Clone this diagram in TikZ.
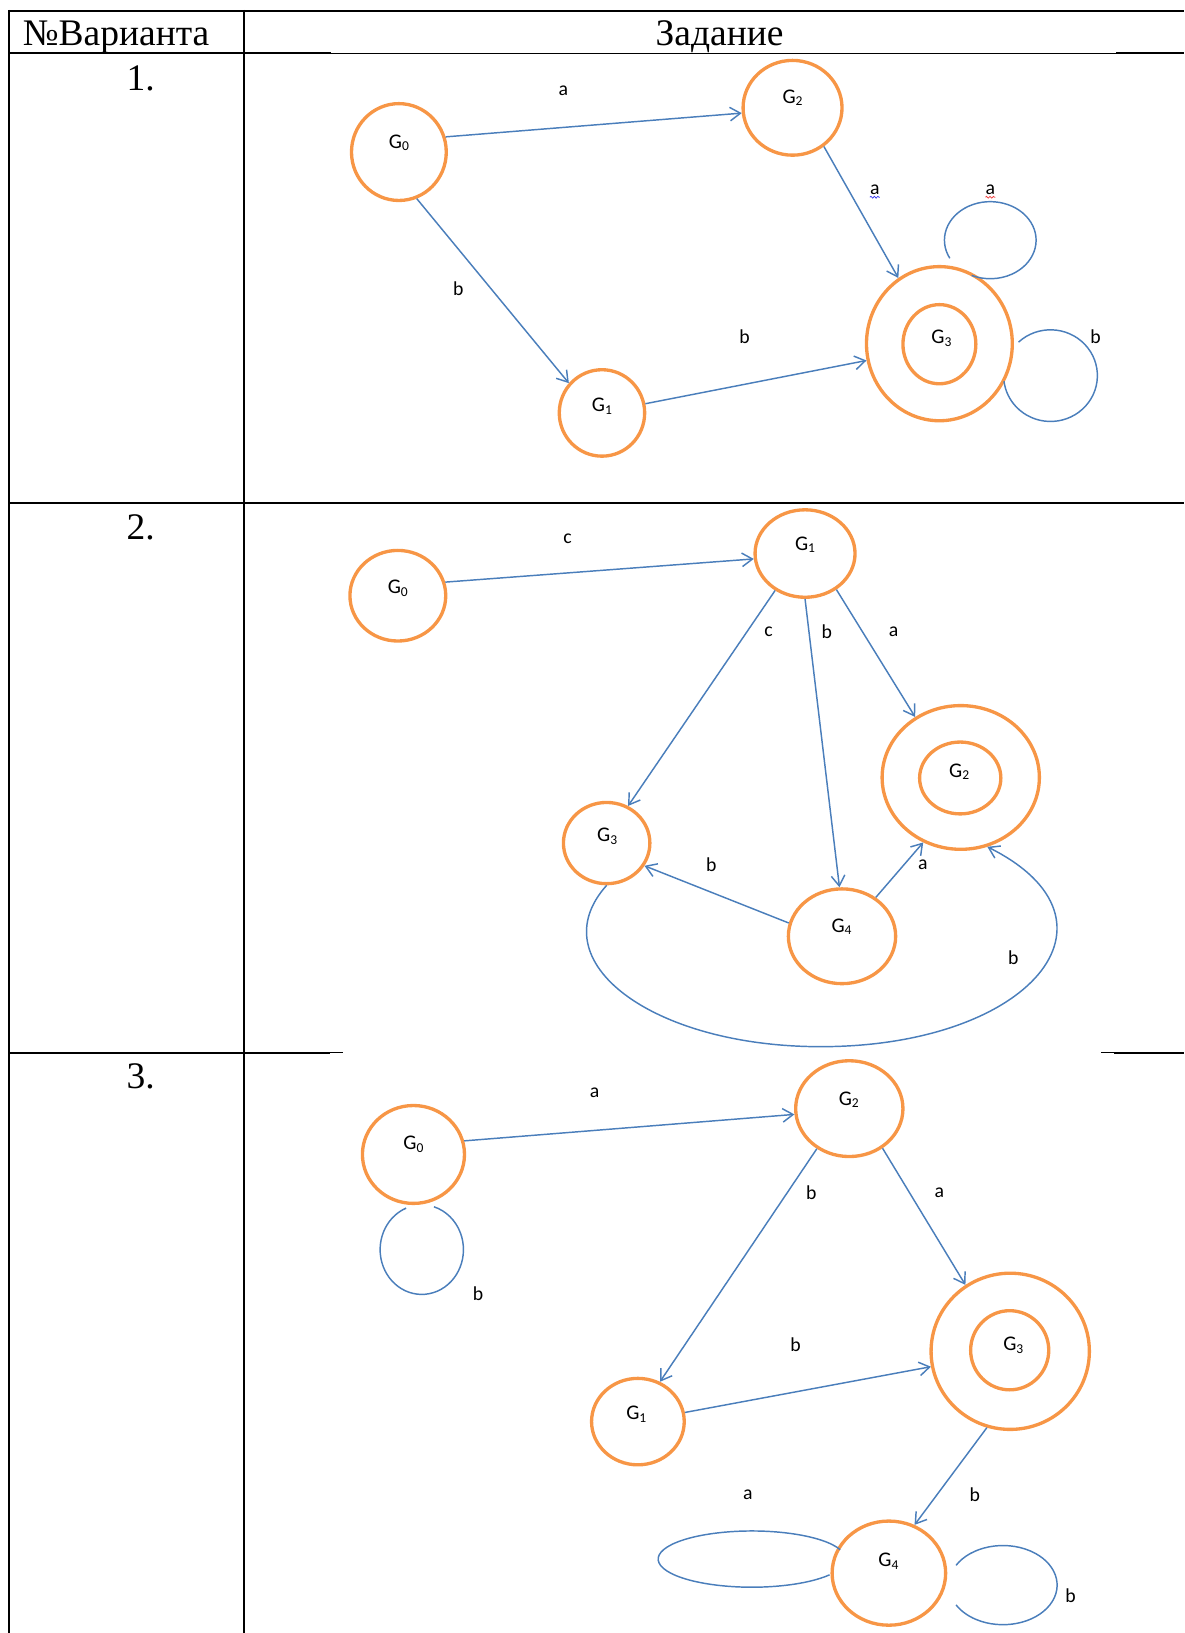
\documentclass[tikz,border=0pt]{standalone}
\usepackage{fontspec}
\setmainfont{Liberation Serif}
\newfontfamily\lblfont{Carlito}
\usetikzlibrary{arrows.meta,shapes.geometric,decorations.pathmorphing}
\definecolor{stateorange}{HTML}{F79646}
\definecolor{edgeblue}{HTML}{4A7EBB}
\definecolor{spellblue}{HTML}{3C3CF0}
\definecolor{spellred}{HTML}{F03C3C}
\newcommand{\gsub}[1]{G\raisebox{-2.5pt}{\fontsize{13}{13}\selectfont#1}}

\begin{document}
\begin{tikzpicture}[x=1pt,y=-1pt,
  state/.style={ellipse,draw=stateorange,line width=3.2pt,inner sep=0pt},
  lbl/.style={font=\lblfont\fontsize{19}{19}\selectfont,inner sep=0pt},
  slbl/.style={font=\lblfont\fontsize{20}{20}\selectfont,inner sep=0pt},
  arr/.style={-{Straight Barb[length=10pt,width=13pt]},line width=1.4pt,edgeblue},
  loopl/.style={line width=1.4pt,edgeblue},
  hdr/.style={font=\fontsize{36}{40}\selectfont,inner sep=0pt,anchor=base},
  tline/.style={line width=1.9pt},
  hair/.style={line width=1.1pt},
  squig/.style={decorate,decoration={snake,amplitude=0.9pt,segment length=3.3pt},line width=0.7pt}]

  \useasboundingbox (0,0) rectangle (1137,1568);

  % table
  \draw[tline] (8.6,10.5) -- (1137,10.5);
  \draw[tline] (8.6,51) -- (318,51);
  \draw[hair] (318,51) -- (1072,51);
  \draw[tline] (1072,51) -- (1137,51);
  \draw[tline] (8.6,483) -- (1137,483);
  \draw[tline] (8.6,1011) -- (317,1011);
  \draw[hair] (317,1011) -- (329,1011);
  \draw[hair] (1057,1011) -- (1070,1011);
  \draw[tline] (1070,1011) -- (1137,1011);
  \draw[tline] (8.6,9.6) -- (8.6,1568);
  \draw[tline] (234,9.6) -- (234,1568);

  \node[hdr] (hnum) at (111.5,44) {№Варианта};
  \node[hdr] (htask) at (691,44) {Задание};
  \node[hdr] (n1) at (135,87) {1.};
  \node[hdr] (n2) at (135,518) {2.};
  \node[hdr] (n3) at (135,1045) {3.};

  % variant 1
  \node[state,minimum width=91pt,minimum height=93pt] (r1g0) at (383,146) {};
  \node[state,minimum width=95pt,minimum height=91pt] (r1g2) at (761,103.5) {};
  \node[state,minimum width=82pt,minimum height=83pt] (r1g1) at (578,396.5) {};
  \node[state,minimum width=140pt,minimum height=148pt] (r1g3) at (902,330) {};
  \node[state,minimum width=70pt,minimum height=76pt] (r1g3i) at (902,330.5) {};
  \node[slbl] (r1t0) at (383,137) {\gsub{0}};
  \node[slbl] (r1t2) at (761,94) {\gsub{2}};
  \node[slbl] (r1t1) at (578,390) {\gsub{1}};
  \node[slbl] (r1t3) at (904,325) {\gsub{3}};

  \draw[arr] (r1g0.18) -- (r1g2.186);
  \draw[arr] (r1g0.-69) -- (r1g1.138);
  \draw[arr] (r1g2.-51) -- (r1g3.122);
  \draw[arr] (r1g1.12) -- (r1g3.193);
  \draw[loopl] ([shift={(10,-82)}]r1g3.center)
    arc[start angle=152,end angle=474,x radius=44,y radius=37];
  \draw[loopl] ([shift={(76,-1.5)}]r1g3.center)
    arc[start angle=227,end angle=533,x radius=45,y radius=44];

  \node[lbl] (r1la) at (541,87) {a};
  \node[lbl] (r1lb) at (440,277) {b};
  \node[lbl] (r1la2) at (840,182) {a};
  \node[lbl] (r1lb2) at (715,323) {b};
  \node[lbl] (r1la3) at (951,182) {a};
  \node[lbl] (r1lb3) at (1052,323) {b};
  \draw[squig,spellblue] ([yshift=-2.5pt]r1la2.south west) -- ([yshift=-2.5pt]r1la2.south east);
  \draw[squig,spellred] ([yshift=-2.5pt]r1la3.south west) -- ([yshift=-2.5pt]r1la3.south east);

  % variant 2
  \node[state,minimum width=92pt,minimum height=87pt] (r2g0) at (382,572) {};
  \node[state,minimum width=96pt,minimum height=84pt] (r2g1) at (773,531.5) {};
  \node[state,minimum width=151pt,minimum height=138pt] (r2g2) at (922.5,746.5) {};
  \node[state,minimum width=78pt,minimum height=69pt] (r2g2i) at (922,747) {};
  \node[state,minimum width=83pt,minimum height=78pt] (r2g3) at (582.5,809.5) {};
  \node[state,minimum width=103pt,minimum height=91pt] (r2g4) at (808.5,899) {};
  \node[slbl] (r2t0) at (382,565) {\gsub{0}};
  \node[slbl] (r2t1) at (773,523) {\gsub{1}};
  \node[slbl] (r2t2) at (921,741) {\gsub{2}};
  \node[slbl] (r2t3) at (583,803) {\gsub{3}};
  \node[slbl] (r2t4) at (808,890) {\gsub{4}};

  \draw[arr] (r2g0.16) -- (r2g1.186);
  \draw[arr] (r2g1.-129) -- (r2g3.60);
  \draw[arr] (r2g1.-90) -- (r2g4.93);
  \draw[arr] (r2g1.-49) -- (r2g2.127);
  \draw[arr] (r2g4.166) -- (r2g3.-31);
  \draw[arr] (r2g4.49) -- (r2g2.-120);
  \draw[arr] (r2g3.south) .. controls (517,923) and (626,1005) .. (788,1005)
    .. controls (989,1005) and (1090,884) .. (r2g2.-69);

  \node[lbl] (r2lc) at (545,517) {c};
  \node[lbl] (r2lc2) at (738,607) {c};
  \node[lbl] (r2lb) at (794,607) {b};
  \node[lbl] (r2la) at (858,607) {a};
  \node[lbl] (r2lb2) at (683,830) {b};
  \node[lbl] (r2la2) at (886,830) {a};
  \node[lbl] (r2lb3) at (973,920) {b};

  % variant 3
  \node[state,minimum width=98pt,minimum height=94pt] (r3g0) at (397,1108.5) {};
  \node[state,minimum width=103pt,minimum height=92pt] (r3g2) at (815.5,1064.5) {};
  \node[state,minimum width=89pt,minimum height=83pt] (r3g1) at (612.5,1365) {};
  \node[state,minimum width=152pt,minimum height=150pt] (r3g3) at (970,1297.5) {};
  \node[state,minimum width=75pt,minimum height=76pt] (r3g3i) at (969.5,1296.5) {};
  \node[state,minimum width=109pt,minimum height=100pt] (r3g4) at (853.5,1510.5) {};
  \node[slbl] (r3t0) at (397,1099) {\gsub{0}};
  \node[slbl] (r3t2) at (815,1056) {\gsub{2}};
  \node[slbl] (r3t1) at (611,1358) {\gsub{1}};
  \node[slbl] (r3t3) at (973,1292) {\gsub{3}};
  \node[slbl] (r3t4) at (853,1499) {\gsub{4}};

  \draw[arr] (r3g0.15) -- (r3g2.186);
  \draw[arr] (r3g2.-129) -- (r3g1.61);
  \draw[arr] (r3g2.-50) -- (r3g3.124);
  \draw[arr] (r3g1.11) -- (r3g3.191);
  \draw[arr] (r3g3.-107) -- (r3g4.62);
  \draw[loopl] ([shift={(-7,51.5)}]r3g0.center)
    arc[start angle=248,end angle=-73,x radius=40,y radius=43];
  \draw[loopl] ([shift={(-46.7,-22.5)}]r3g4.center)
    arc[start angle=-19.5,end angle=-326,x radius=90,y radius=27];
  \draw[loopl] ([shift={(64.5,-7.5)}]r3g4.center)
    arc[start angle=210,end angle=510,x radius=52,y radius=38];

  \node[lbl] (r3la) at (571,1049) {a};
  \node[lbl] (r3lb) at (779,1145) {b};
  \node[lbl] (r3la2) at (902,1145) {a};
  \node[lbl] (r3lb2) at (459,1242) {b};
  \node[lbl] (r3lb3) at (764,1291) {b};
  \node[lbl] (r3la3) at (718,1435) {a};
  \node[lbl] (r3lb4) at (936,1435) {b};
  \node[lbl] (r3lb5) at (1028,1532) {b};
\end{tikzpicture}
\end{document}
